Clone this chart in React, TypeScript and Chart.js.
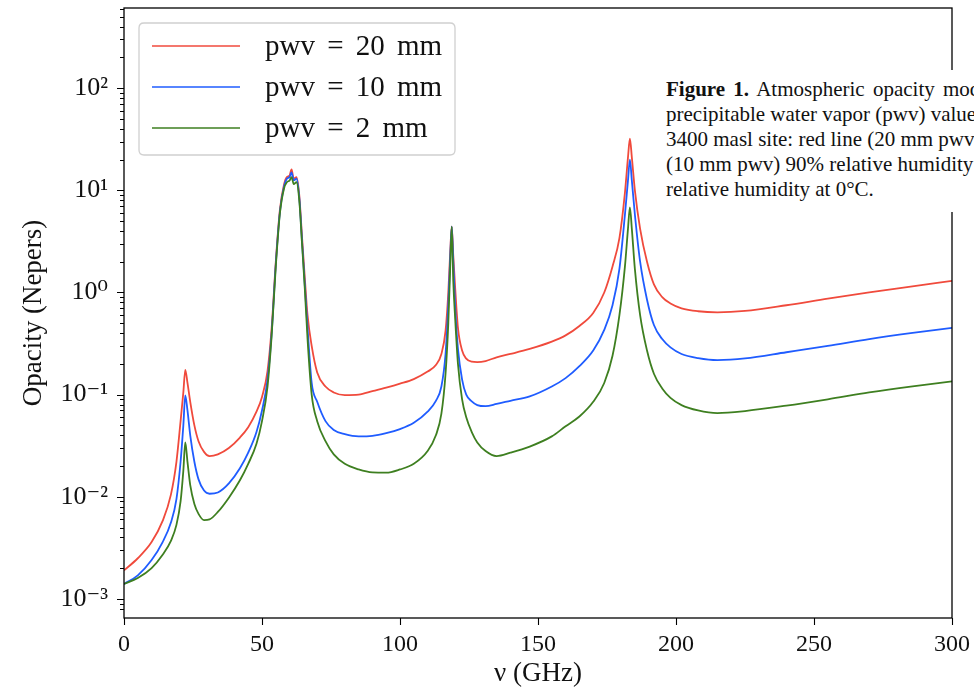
import React, { useEffect, useRef } from 'react';
import { Chart, registerables } from 'chart.js';

Chart.register(...registerables);

// Frequency grid (GHz)
const FREQ_GHZ = [
  0, 5, 10, 14, 17, 19, 20.5, 21.5, 22.2, 23, 24, 25.5, 27, 29, 31, 34, 38, 42, 45, 48,
  50, 52, 53.5, 55, 56.5, 58, 59, 60, 60.7, 61.5, 62.5, 63.5, 64.5, 65.5, 66.5, 68, 70, 73, 76, 80,
  85, 90, 95, 100, 105, 110, 113, 115, 116.5, 117.5, 118.2, 118.75, 119.3, 120, 121, 122.5, 124, 126, 128, 131,
  135, 140, 147, 155, 160, 165, 170, 174, 177, 179.5, 181.5, 182.6, 183.3, 184, 185.1, 187, 189.5, 192, 195, 198,
  202, 208, 215, 225, 240, 255, 270, 285, 300,
];

// Opacity (Nepers), pwv = 20 mm
const OPACITY_20MM = [
  0.0019, 0.0025, 0.0036, 0.0058, 0.0105, 0.022, 0.055, 0.105, 0.175, 0.13, 0.085, 0.05, 0.035, 0.0275, 0.025, 0.026, 0.03, 0.038, 0.048, 0.068,
  0.095, 0.17, 0.45, 2.0, 6.5, 11.5, 13.5, 14, 16, 13, 13.5, 9, 3.5, 1.4, 0.6, 0.3, 0.165, 0.12, 0.105, 0.099,
  0.1, 0.108, 0.117, 0.128, 0.142, 0.168, 0.195, 0.25, 0.42, 1.0, 2.5, 4.4, 2.3, 1.1, 0.45, 0.27, 0.225, 0.21, 0.208, 0.213,
  0.232, 0.25, 0.28, 0.33, 0.38, 0.47, 0.63, 1.0, 1.8, 3.4, 9.5, 21, 32, 21, 10, 4.2, 2.0, 1.2, 0.9, 0.78,
  0.7, 0.655, 0.64, 0.66, 0.75, 0.87, 1.0, 1.14, 1.3,
];

// Opacity (Nepers), pwv = 10 mm
const OPACITY_10MM = [
  0.0014, 0.0017, 0.0024, 0.0036, 0.0056, 0.0095, 0.022, 0.05, 0.098, 0.07, 0.04, 0.022, 0.0148, 0.0115, 0.0107, 0.011, 0.0135, 0.019, 0.027, 0.043,
  0.07, 0.14, 0.4, 1.9, 6.2, 11, 13, 13.5, 15, 12.5, 13, 8.5, 3.2, 1.2, 0.45, 0.13, 0.085, 0.055, 0.045, 0.041,
  0.039, 0.0395, 0.042, 0.046, 0.053, 0.068, 0.087, 0.12, 0.25, 0.75, 2.2, 4.4, 2.0, 0.7, 0.28, 0.14, 0.1, 0.086, 0.079, 0.077,
  0.081, 0.087, 0.096, 0.12, 0.145, 0.19, 0.27, 0.43, 0.75, 1.7, 5.8, 12.5, 20, 12.5, 5.8, 2.0, 0.85, 0.48, 0.35, 0.29,
  0.25, 0.228, 0.218, 0.226, 0.26, 0.3, 0.35, 0.4, 0.45,
];

// Opacity (Nepers), pwv = 2 mm
const OPACITY_2MM = [
  0.0014, 0.0016, 0.002, 0.0027, 0.0037, 0.0053, 0.009, 0.018, 0.034, 0.022, 0.013, 0.0085, 0.0068, 0.0059, 0.006, 0.0071, 0.0098, 0.0145, 0.021, 0.033,
  0.055, 0.12, 0.38, 1.8, 6, 10.5, 12, 12.5, 13.5, 11.5, 12, 8, 3, 1.1, 0.35, 0.1, 0.055, 0.035, 0.026, 0.021,
  0.0185, 0.0173, 0.0172, 0.0185, 0.021, 0.028, 0.04, 0.065, 0.16, 0.5, 1.8, 4.4, 1.3, 0.55, 0.2, 0.09, 0.06, 0.043, 0.034, 0.028,
  0.025, 0.027, 0.031, 0.039, 0.049, 0.061, 0.085, 0.13, 0.24, 0.6, 1.8, 4.2, 6.8, 4.2, 1.7, 0.6, 0.27, 0.16, 0.115, 0.093,
  0.079, 0.07, 0.066, 0.069, 0.078, 0.09, 0.105, 0.12, 0.135,
];

const SERIES_LABELS = ['pwv = 20 mm', 'pwv = 10 mm', 'pwv = 2 mm'];
const SERIES_COLORS = ['#f04a3c', '#1f5cff', '#3e7f20'];

const Y_MAJOR_VALUES = [1e-3, 1e-2, 1e-1, 1, 10, 100];
const Y_TICK_LABELS = ['10⁻³', '10⁻²', '10⁻¹', '10⁰', '10¹', '10²'];

const X_TITLE = 'ν (GHz)';
const Y_TITLE = 'Opacity (Nepers)';

const CAPTION_LINES = [
  'Atmospheric opacity models',
  'precipitable water vapor (pwv) values',
  '3400 masl site: red line (20 mm pwv)',
  '(10 mm pwv) 90% relative humidity',
  'relative humidity at 0°C.',
];
const CAPTION_WORD_SPACING = [3, 0, 0, 0, 0];

const SERIF = "'Liberation Serif', 'DejaVu Serif', serif";

function toPoints(values: number[]) {
  return FREQ_GHZ.map((f, i) => ({ x: f, y: values[i] }));
}

const decorPlugin = {
  id: 'decor',
  afterDraw(chart: any) {
    const { ctx, chartArea } = chart;
    const xs = chart.scales.x;
    const ys = chart.scales.y;
    ctx.save();
    // frame
    ctx.strokeStyle = '#000';
    ctx.lineWidth = 1.3;
    ctx.strokeRect(chartArea.left, chartArea.top, chartArea.right - chartArea.left, chartArea.bottom - chartArea.top);
    // ticks
    ctx.lineWidth = 1.1;
    ctx.beginPath();
    for (const t of ys.ticks) {
      const v = t.value;
      const e = Math.floor(Math.log10(v) + 1e-9);
      const m = v / Math.pow(10, e);
      if (Math.abs(m - Math.round(m)) > 1e-6) continue;
      const major = Math.round(m) === 1;
      const len = major ? 7 : 4;
      const py = Math.round(ys.getPixelForValue(v)) + 0.5;
      ctx.moveTo(chartArea.left - len, py);
      ctx.lineTo(chartArea.left, py);
    }
    for (const t of xs.ticks) {
      const px = Math.round(xs.getPixelForValue(t.value)) + 0.5;
      ctx.moveTo(px, chartArea.bottom);
      ctx.lineTo(px, chartArea.bottom + 7);
    }
    ctx.stroke();

    // legend
    const lx = chartArea.left + 15;
    const ly = chartArea.top + 15;
    const lw = 316;
    const lh = 132;
    const r = 5;
    ctx.beginPath();
    ctx.moveTo(lx + r, ly);
    ctx.lineTo(lx + lw - r, ly);
    ctx.quadraticCurveTo(lx + lw, ly, lx + lw, ly + r);
    ctx.lineTo(lx + lw, ly + lh - r);
    ctx.quadraticCurveTo(lx + lw, ly + lh, lx + lw - r, ly + lh);
    ctx.lineTo(lx + r, ly + lh);
    ctx.quadraticCurveTo(lx, ly + lh, lx, ly + lh - r);
    ctx.lineTo(lx, ly + r);
    ctx.quadraticCurveTo(lx, ly, lx + r, ly);
    ctx.closePath();
    ctx.fillStyle = 'rgba(255,255,255,0.85)';
    ctx.fill();
    ctx.strokeStyle = '#d0d0d0';
    ctx.lineWidth = 1.3;
    ctx.stroke();

    ctx.font = `29px ${SERIF}`;
    ctx.textBaseline = 'middle';
    ctx.textAlign = 'left';
    try {
      (ctx as any).wordSpacing = '5px';
    } catch (e) {
      /* ignore */
    }
    chart.data.datasets.forEach((ds: any, i: number) => {
      const y = ly + 23 + i * 41;
      ctx.strokeStyle = ds.borderColor;
      ctx.lineWidth = 1.5;
      ctx.beginPath();
      ctx.moveTo(lx + 13, y);
      ctx.lineTo(lx + 101, y);
      ctx.stroke();
      ctx.fillStyle = '#111';
      ctx.fillText(ds.label, lx + 126, y + 1);
    });
    ctx.restore();
  },
};

function OpacityChart() {
  const ref = useRef<HTMLCanvasElement | null>(null);
  useEffect(() => {
    if (!ref.current) return;
    const series = [OPACITY_20MM, OPACITY_10MM, OPACITY_2MM];
    const chart = new Chart(ref.current, {
      type: 'line',
      data: {
        datasets: series.map((vals, i) => ({
          label: SERIES_LABELS[i],
          data: toPoints(vals),
          borderColor: SERIES_COLORS[i],
          backgroundColor: SERIES_COLORS[i],
          borderWidth: 1.8,
          pointRadius: 0,
          cubicInterpolationMode: 'monotone' as const,
          fill: false,
          order: 3 - i,
        })),
      },
      options: {
        animation: false,
        responsive: false,
        devicePixelRatio: 1,
        layout: { padding: { top: 8, right: 48, bottom: 0, left: 0 } },
        plugins: { legend: { display: false }, tooltip: { enabled: false } },
        scales: {
          x: {
            type: 'linear',
            min: 0,
            max: 300,
            grid: { display: false },
            border: { display: false },
            ticks: {
              stepSize: 50,
              color: '#111',
              padding: 4,
              font: { family: SERIF, size: 24 },
              maxRotation: 0,
            },
            title: {
              display: true,
              text: X_TITLE,
              color: '#111',
              font: { family: SERIF, size: 27 },
              padding: { top: 0, bottom: 0 },
            },
            afterFit(scale: any) {
              scale.height = 72;
              scale.paddingLeft = 0;
              scale.paddingRight = 0;
            },
          },
          y: {
            type: 'logarithmic',
            min: 6.5e-4,
            max: 610,
            grid: { display: false },
            border: { display: false },
            ticks: {
              autoSkip: false,
              color: '#111',
              padding: 8,
              font: { family: SERIF, size: 26 },
              callback: (value: any) => {
                const v = Number(value);
                const i = Y_MAJOR_VALUES.findIndex((m) => Math.abs(Math.log10(v) - Math.log10(m)) < 1e-6);
                return i >= 0 ? Y_TICK_LABELS[i] : '';
              },
            },
            title: {
              display: true,
              text: Y_TITLE,
              color: '#111',
              font: { family: SERIF, size: 27 },
              padding: { top: 18, bottom: 0 },
            },
            afterFit(scale: any) {
              scale.width = 124;
              scale.paddingTop = 0;
              scale.paddingBottom = 0;
            },
          },
        },
      },
      plugins: [decorPlugin],
    });
    return () => chart.destroy();
  }, []);
  return <canvas ref={ref} width={1000} height={690} style={{ display: 'block', width: 1000, height: 690 }} />;
}

export default function App() {
  return (
    <div style={{ position: 'fixed', left: 0, top: 0, width: 974, height: 690, overflow: 'hidden', background: '#fff' }}>
      <div style={{ position: 'absolute', left: 0, top: 0, width: 1000, height: 690 }}>
        <OpacityChart />
      </div>
      <div
        style={{
          position: 'absolute',
          left: 658,
          top: 70,
          width: 360,
          padding: '7px 0 10px 8px',
          background: '#fff',
          fontFamily: SERIF,
          fontSize: 21,
          lineHeight: '25px',
          color: '#111',
          whiteSpace: 'nowrap',
        }}
      >
        {CAPTION_LINES.map((l, i) => (
          <div key={i} style={{ wordSpacing: CAPTION_WORD_SPACING[i] }}>
            {i === 0 ? <b>Figure 1.</b> : null}
            {i === 0 ? ' ' : null}
            {l}
          </div>
        ))}
      </div>
    </div>
  );
}
